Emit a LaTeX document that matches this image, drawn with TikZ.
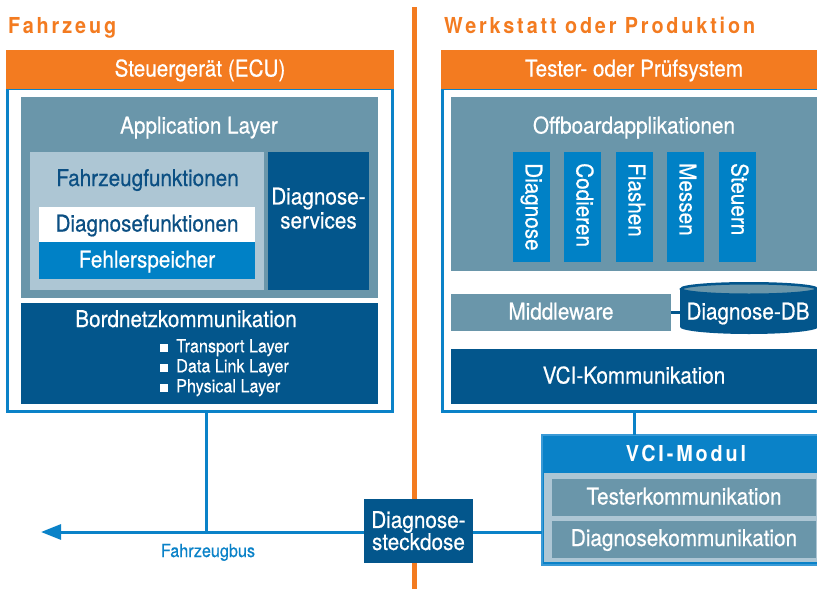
\documentclass[tikz,border=0pt]{standalone}
\usepackage{fontspec}
\setmainfont{TeX Gyre Heros}[FakeStretch=0.9, FakeBold=0.5]
\newfontfamily\spacedfont{TeX Gyre Heros}[FakeStretch=0.9, LetterSpace=13]
\usetikzlibrary{arrows.meta}
\definecolor{orng}{HTML}{F37B20}
\definecolor{bline}{HTML}{0A82C8}
\definecolor{lblue}{HTML}{3A9AD6}
\definecolor{steel}{HTML}{6A96AA}
\definecolor{lightp}{HTML}{ADC6D4}
\definecolor{dark}{HTML}{03568C}
\definecolor{mid}{HTML}{0081C6}
\definecolor{dtext}{HTML}{0B4F83}
\newcommand\fzbig{\fontsize{23}{24}\selectfont}
\newcommand\fzsmall{\fontsize{18}{20}\selectfont}
\newcommand\fzlabel{\fontsize{18}{20}\selectfont}
\newcommand\fztitle{\spacedfont\bfseries\fontsize{22}{24}\selectfont}
\newcommand\bul{\rule{8pt}{8pt}\hspace{8pt}}
\begin{document}
\begin{tikzpicture}[x=1pt,y=-1pt,
  box/.style={inner sep=0pt, outer sep=0pt, anchor=north west},
  txt/.style={font=\fzbig, text=white, text height=14pt, text depth=0pt, inner sep=0pt},
  plain/.style={font=\fzbig, text=white, inner sep=0pt},
  vert/.style={font=\fzbig, text=white, inner sep=0pt, rotate=-90, anchor=west, text height=16.5pt, text depth=4.5pt},
  vbox/.style={box, fill=mid, minimum width=37pt, minimum height=110pt},
  bus/.style={draw=bline, line width=3pt},
  ttl/.style={font=\fztitle, text=orng, anchor=base west, inner sep=0pt}]
\clip (0,0) rectangle (817,589);
\fill[white] (0,0) rectangle (817,589);

% titles and divider
\node[ttl] (ttl1) at (8,33.5) {Fahrzeug};
\node[ttl] (ttl2) at (444,33.5) {Werkstatt oder Produktion};
\draw[orng, line width=5pt] (414.5,7) -- (414.5,589);

% ---------- left: ECU ----------
\node[box, draw=bline, line width=3pt, fill=white, minimum width=385pt, minimum height=323.5pt] (ecu) at (7.5,88) {};
\node[box, fill=orng, minimum width=388pt, minimum height=39pt, txt] (ecuhdr) at (6,50) {Steuergerät (ECU)};
\node[box, fill=steel, minimum width=357pt, minimum height=201pt] (app) at (21,97) {};
\node[plain, anchor=base] (apptxt) at (199,133.5) {Application Layer};
\node[box, fill=lightp, minimum width=234pt, minimum height=138pt] (fzf) at (30,152) {};
\node[plain, text=dtext, anchor=base] (fzftxt) at (147.5,186) {Fahrzeugfunktionen};
\node[box, fill=white, minimum width=216pt, minimum height=35pt, txt, text=dtext] (dfk) at (39,207) {Diagnosefunktionen};
\node[box, fill=mid, minimum width=216pt, minimum height=37pt, txt] (fsp) at (39,242) {Fehlerspeicher};
\node[box, fill=dark, minimum width=101pt, minimum height=138pt] (dsv) at (268,152) {};
\node[plain, align=center, anchor=north, font={\fontsize{23}{24}\selectfont}] (dsvtxt) at (318.5,187.5) {Diagnose-\\services};
\node[box, fill=dark, minimum width=357pt, minimum height=101pt] (bnk) at (21,303) {};
\node[plain, anchor=base] (bnktxt) at (186,327) {Bordnetzkommunikation};
\node[plain, font=\fzsmall, align=left, anchor=north west] (layers) at (160,339) {\bul Transport Layer\\\bul Data Link Layer\\\bul Physical Layer};

% ---------- right: tester ----------
\node[box, draw=bline, line width=3pt, fill=white, minimum width=400pt, minimum height=323.5pt] (tst) at (442.5,88) {};
\node[box, fill=orng, minimum width=386pt, minimum height=39pt, txt] (tsthdr) at (441,50) {Tester- oder Prüfsystem};
\node[box, fill=steel, minimum width=380pt, minimum height=174pt] (off) at (451,97) {};
\node[plain, anchor=base] (offtxt) at (634,133.5) {Offboardapplikationen};
\node[vbox] (b1) at (513,152) {};
\node[vbox] (b2) at (564,152) {};
\node[vbox] (b3) at (616,152) {};
\node[vbox] (b4) at (667,152) {};
\node[vbox] (b5) at (719,152) {};
\node[vert] (t1) at (b1.north |- 0,163) {Diagnose};
\node[vert] (t2) at (b2.north |- 0,163) {Codieren};
\node[vert] (t3) at (b3.north |- 0,163) {Flashen};
\node[vert] (t4) at (b4.north |- 0,163) {Messen};
\node[vert] (t5) at (b5.north |- 0,163) {Steuern};
\node[box, fill=steel, minimum width=220pt, minimum height=37pt, txt] (mw) at (451,294) {Middleware};
% database cylinder
\node[box, minimum width=138pt, minimum height=52pt] (dbbody) at (680,282) {};
\fill[dark] (680,289) rectangle (818,327);
\fill[dark] (749,327) ellipse [x radius=69, y radius=7];
\draw[dark, fill=steel, line width=2.5pt] (749,289) ellipse [x radius=67.75, y radius=5.75];
\node[plain, anchor=base] (db) at (748,319.5) {Diagnose-DB};
\draw[dark, line width=3pt] (mw.east) -- (mw.east -| dbbody.west);
\node[box, fill=dark, minimum width=366pt, minimum height=55pt, txt] (vck) at (451,349) {VCI-Kommunikation};

% ---------- VCI module ----------
\node[box, fill=bline, draw=lblue, line width=1.5pt, minimum width=300pt, minimum height=130pt] (vcim) at (541.75,434.75) {};
\node[font=\fztitle, text=white, anchor=base, inner sep=0pt] (vcimtxt) at (686,461.5) {VCI-Modul};
\node[box, fill=lightp, minimum width=280pt, minimum height=89pt] (vpan) at (544,473) {};
\node[box, fill=steel, minimum width=264pt, minimum height=37pt, txt] (tko) at (552,479) {Testerkommunikation};
\node[box, fill=steel, minimum width=264pt, minimum height=37pt, txt] (dko) at (552,520.5) {Diagnosekommunikation};
\draw[bus] (vck.center |- tst.south) -- (vck.center |- vcim.north);

% ---------- connector and bus ----------
\node[box, fill=dark, minimum width=109pt, minimum height=64.5pt, font={\fontsize{23}{22}\selectfont}, text=white, align=center] (steck) at (364,498.5) {Diagnose-\\steckdose};
\coordinate (busj) at (206,532);
\coordinate (busend) at (41,532);
\draw[bus] (ecu.south -| busj) -- (busj);
\draw[bus, -{Triangle[length=20pt, width=15pt]}] (steck.west |- busj) -- (busend);
\draw[bus] (steck.east |- busj) -- (vcim.west |- busj);
\node[font=\fzlabel, text=bline, anchor=base, inner sep=0pt] (fzbus) at (208,557) {Fahrzeugbus};
\end{tikzpicture}
\end{document}
